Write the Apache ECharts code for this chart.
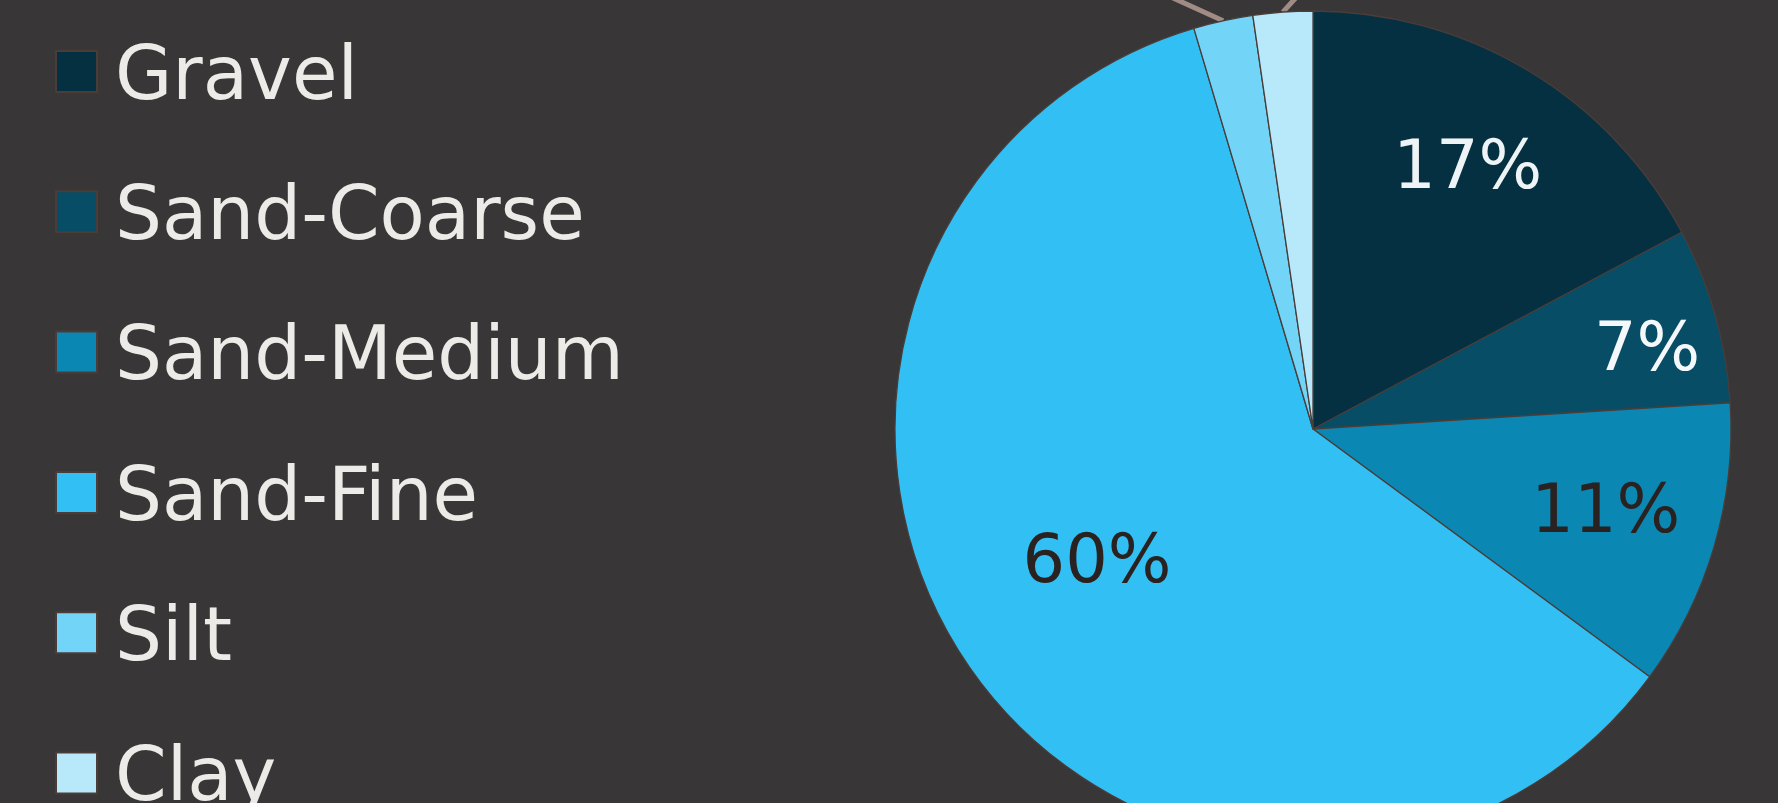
<!DOCTYPE html>
<html><head><meta charset="utf-8">
<script src="https://cdn.jsdelivr.net/npm/echarts@6/dist/echarts.min.js"></script>
<style>html,body{margin:0;padding:0;background:#383636;} #c{width:1778px;height:803px;}</style>
</head><body><div id="c"></div>
<script>
// ---- data ----
const categories = ['Gravel', 'Sand-Coarse', 'Sand-Medium', 'Sand-Fine', 'Silt', 'Clay'];
const values = [17.2, 6.8, 11.1, 60.3, 2.3, 2.3];

// ---- styles / layout ----
const colors = ['#053042', '#074d66', '#0a87b3', '#32c0f4', '#72d4f7', '#b8e9fb'];
const labelColors = ['#eef4f6', '#f4f8fa', '#2a2220', '#2a2220', '#eeeeee', '#eeeeee'];
// [radius fraction, angle offset in degrees]
const labelPolar = [[0.72, 0], [0.82, 2.9], [0.73, 0], [0.61, 3.0], [1.335, -16.3], [1.173, 8.3]];
const CX = 1313, CY = 429, R = 418;
// square legend swatch sitting slightly above the box centre (empty move-to below it)
const swatchIcon = 'path://M0,57M0,0L41,0L41,41L0,41Z';

const chart = echarts.init(document.getElementById('c'), null, {renderer: 'canvas'});
const total = values.reduce((a, b) => a + b, 0);

const leader = {show: true, length: 10, length2: 0, lineStyle: {color: '#a08c84', width: 5}};

const data = categories.map((name, i) => {
  const item = {
    name: name,
    value: values[i],
    itemStyle: {color: colors[i]},
    label: {color: labelColors[i]}
  };
  if (i >= 4) {
    item.label.position = 'outside';
    item.labelLine = leader;
  }
  return item;
});

chart.setOption({
  backgroundColor: '#383636',
  animation: false,
  legend: {
    orient: 'vertical',
    left: 55,
    top: 42.5,
    height: 1000,
    padding: 0,
    itemGap: 66.3,
    itemWidth: 41,
    itemHeight: 57,
    icon: swatchIcon,
    data: categories,
    textStyle: {
      color: '#ecebe8',
      fontSize: 74,
      fontFamily: '"DejaVu Sans", Verdana, sans-serif',
      padding: [0, 0, 0, 13]
    }
  },
  series: [{
    type: 'pie',
    center: [CX, CY],
    radius: R,
    startAngle: 90,
    clockwise: true,
    avoidLabelOverlap: false,
    itemStyle: {borderColor: '#4a3d39', borderWidth: 1.3},
    label: {
      show: true,
      position: 'inside',
      fontSize: 67,
      fontFamily: '"DejaVu Sans", Verdana, sans-serif',
      formatter: p => Math.round(p.percent) + '%'
    },
    labelLine: leader,
    labelLayout: function (p) {
      const i = p.dataIndex;
      let before = 0;
      for (let j = 0; j < i; j++) before += values[j];
      const mid = (before + values[i] / 2) / total * 2 * Math.PI + labelPolar[i][1] * Math.PI / 180;
      const k = labelPolar[i][0];
      const out = {
        x: CX + k * R * Math.sin(mid),
        y: CY - k * R * Math.cos(mid),
        align: 'center',
        verticalAlign: 'middle'
      };
      if (i === 4) { out.align = 'right'; }
      if (i === 5) { out.align = 'left'; }
      return out;
    },
    data: data
  }]
});
</script>
</body></html>
